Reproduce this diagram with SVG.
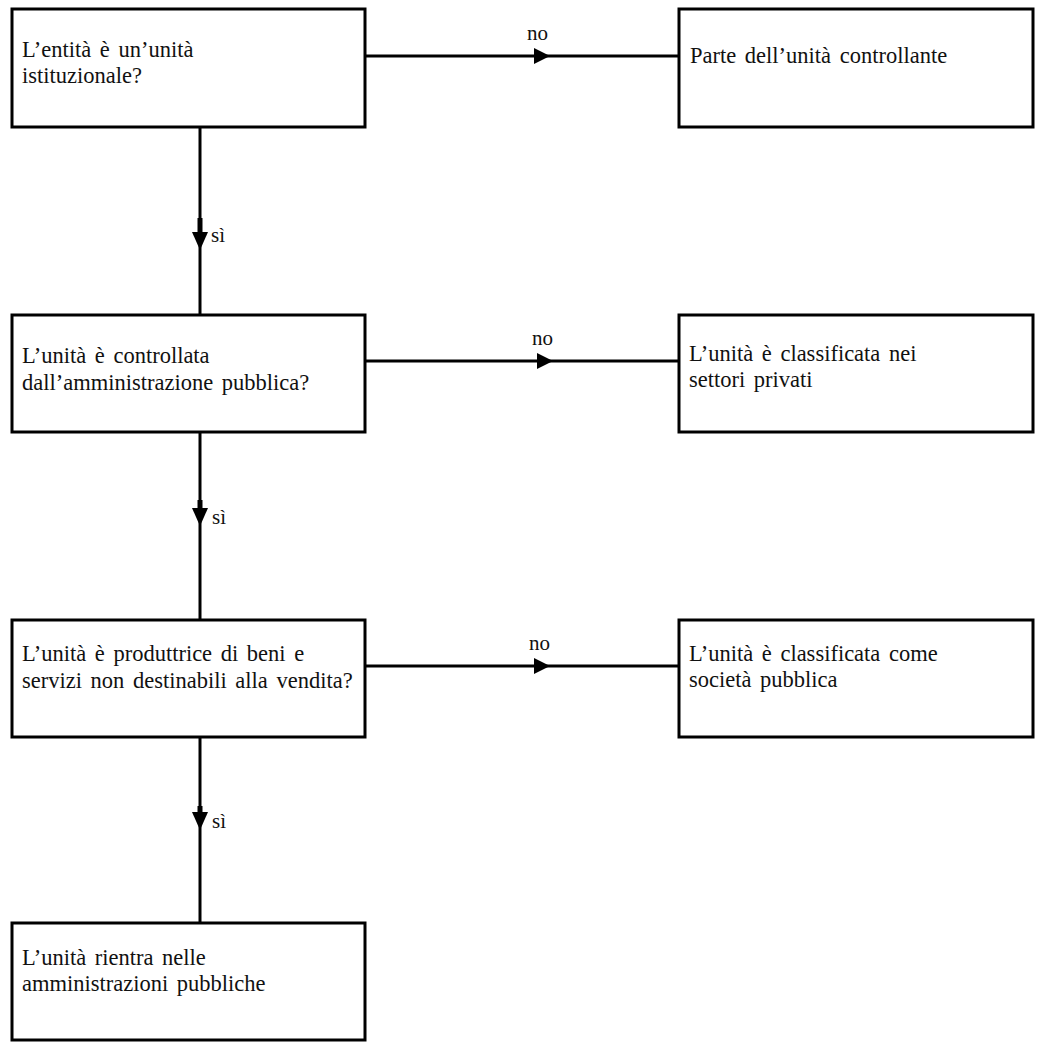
<svg xmlns="http://www.w3.org/2000/svg" width="1040" height="1049" viewBox="0 0 1040 1049">
<style>
.box{fill:#fff;stroke:#000;stroke-width:3}
.t{font-family:"Liberation Serif","Times New Roman",serif;font-size:22.5px;word-spacing:3px;fill:#111}
.l{font-family:"Liberation Serif","Times New Roman",serif;font-size:21px;fill:#111}
.c{stroke:#000;stroke-width:3;fill:none}
.ah{fill:#000;stroke:none}
</style>
<rect width="1040" height="1049" fill="#fff"/>
<g id="connectors">
<line class="c" x1="365" y1="56" x2="679" y2="56"/>
<polygon class="ah" points="534,48 550,56 534,64"/>
<text class="l" x="527" y="40">no</text>
<line class="c" x1="365" y1="361" x2="679" y2="361"/>
<polygon class="ah" points="537,353 553,361 537,369"/>
<text class="l" x="532" y="345">no</text>
<line class="c" x1="365" y1="666" x2="679" y2="666"/>
<polygon class="ah" points="534,658 550,666 534,674"/>
<text class="l" x="529" y="650">no</text>
<line class="c" x1="200" y1="127" x2="200" y2="315"/>
<polygon class="ah" points="192,232 208,232 200,250"/>
<line x1="200" y1="218" x2="200" y2="240" stroke="#000" stroke-width="5"/>
<text class="l" x="211" y="242">sì</text>
<line class="c" x1="200" y1="432" x2="200" y2="620"/>
<polygon class="ah" points="192,508 208,508 200,526"/>
<line x1="200" y1="500" x2="200" y2="515" stroke="#000" stroke-width="5"/>
<text class="l" x="212" y="524">sì</text>
<line class="c" x1="200" y1="737" x2="200" y2="923"/>
<polygon class="ah" points="192,812 208,812 200,830"/>
<line x1="200" y1="806" x2="200" y2="818" stroke="#000" stroke-width="5"/>
<text class="l" x="212" y="828">sì</text>
</g>
<g id="n1">
<rect class="box" x="12" y="9" width="353" height="118"/>
<text class="t" x="22" y="57">L’entità è un’unità</text>
<text class="t" x="22" y="83">istituzionale?</text>
</g>
<g id="n2">
<rect class="box" x="679" y="9" width="354" height="118"/>
<text class="t" x="690" y="63">Parte dell’unità controllante</text>
</g>
<g id="n3">
<rect class="box" x="12" y="315" width="353" height="117"/>
<text class="t" x="22" y="363">L’unità è controllata</text>
<text class="t" x="22" y="390">dall’amministrazione pubblica?</text>
</g>
<g id="n4">
<rect class="box" x="679" y="315" width="354" height="117"/>
<text class="t" x="689" y="361">L’unità è classificata nei</text>
<text class="t" x="689" y="387">settori privati</text>
</g>
<g id="n5">
<rect class="box" x="12" y="620" width="353" height="117"/>
<text class="t" x="22" y="661">L’unità è produttrice di beni e</text>
<text class="t" x="22" y="688">servizi non destinabili alla vendita?</text>
</g>
<g id="n6">
<rect class="box" x="679" y="620" width="354" height="117"/>
<text class="t" x="689" y="661">L’unità è classificata come</text>
<text class="t" x="689" y="687">società pubblica</text>
</g>
<g id="n7">
<rect class="box" x="12" y="923" width="353" height="117"/>
<text class="t" x="22" y="965">L’unità rientra nelle</text>
<text class="t" x="22" y="991">amministrazioni pubbliche</text>
</g>
</svg>
